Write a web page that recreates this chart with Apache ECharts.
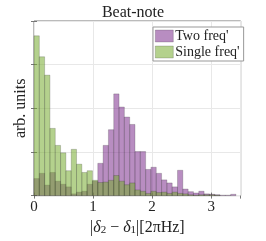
<!DOCTYPE html>
<html>
<head>
<meta charset="utf-8">
<script src="https://cdn.jsdelivr.net/npm/echarts@6/dist/echarts.min.js"></script>
<style>
html,body{margin:0;padding:0;background:#fff;}
#chart{width:266px;height:241px;}
</style>
</head>
<body>
<div id="chart"></div>
<script>
// Histogram bin edges (shared by both series)
var binEdges = [0.00,0.09,0.18,0.27,0.36,0.45,0.54,0.63,0.72,0.81,0.90,0.99,1.08,1.17,1.26,1.35,1.44,1.53,1.62,1.71,1.80,1.89,1.98,2.07,2.16,2.25,2.34,2.43,2.52,2.61,2.70,2.79,2.88,2.97,3.06,3.15,3.24,3.33,3.42,3.51];
// "Two freq'" heights (arb. units)
var twoFreq = [0.39,0.51,0.24,0.53,0.33,0.26,0.20,0.04,0.08,0.10,0.26,0.33,0.74,1.15,1.51,2.33,2.03,1.80,1.63,1.01,1.01,0.60,0.65,0.51,0.36,0.29,0.20,0.58,0.15,0.09,0.06,0.10,0.04,0.03,0.02,0.01,0.01,0.03,0.00];
// "Single freq'" heights (arb. units)
var singleFreq = [3.66,3.18,2.76,1.54,1.15,0.98,0.57,1.06,0.72,0.53,0.57,0.35,0.30,0.31,0.35,0.46,0.33,0.25,0.29,0.13,0.10,0.05,0.10,0.07,0.08,0.05,0.08,0.05,0.04,0.02,0.01,0.02,0.02,0.02,0.01,0.00,0.00,0.00,0.00];
var xTicks = [0, 1, 2, 3];
var seriesNames = ["Two freq'", "Single freq'"];

var purpleFill = 'rgba(126,47,142,0.55)';
var greenFill = 'rgba(119,172,48,0.55)';
var edgeCol = 'rgba(40,40,40,0.35)';
var FONT = 'Liberation Serif';

function toData(vals){
  var out = [];
  for (var i = 0; i < vals.length; i++) out.push([binEdges[i], binEdges[i+1], vals[i]]);
  return out;
}
function makeRender(fill){
  return function(params, api){
    var h = api.value(2);
    if (!(h > 0)) return;
    var p0 = api.coord([api.value(0), h]);
    var p1 = api.coord([api.value(1), 0]);
    var cs = params.coordSys;
    var r = echarts.graphic.clipRectByRect(
      {x: p0[0], y: p0[1], width: p1[0]-p0[0], height: p1[1]-p0[1]},
      {x: cs.x, y: cs.y, width: cs.width, height: cs.height});
    if (!r) return;
    return {type:'rect', shape: r, style: {fill: fill, stroke: edgeCol, lineWidth: 0.6}};
  };
}

var chart = echarts.init(document.getElementById('chart'), null, {renderer:'canvas'});
var gridLine = {show:true, lineStyle:{color:'#e8e8e8', width:1}};
chart.setOption({
  animation:false,
  backgroundColor:'#fff',
  title:{text:'Beat-note', left:'center', top:0, textStyle:{fontFamily:FONT, fontWeight:'normal', fontSize:16, color:'#222'}},
  legend:{
    orient:'vertical', left:153, top:27, itemWidth:18, itemHeight:12, itemGap:2,
    padding:[2,4,2,2], borderColor:'#999', borderWidth:1, backgroundColor:'#fff',
    textStyle:{fontFamily:FONT, fontSize:14, color:'#222', padding:[0,0,0,-3]},
    data:[
      {name:seriesNames[0], icon:'rect', itemStyle:{color:purpleFill, borderColor:edgeCol, borderWidth:0.6}},
      {name:seriesNames[1], icon:'rect', itemStyle:{color:greenFill, borderColor:edgeCol, borderWidth:0.6}}
    ]
  },
  grid:{left:34, top:21, right:25.3, bottom:37.7, show:true, borderColor:'#777', borderWidth:1, backgroundColor:'transparent'},
  xAxis:[{
    type:'value', min:0, max:3.5, interval:1, position:'bottom',
    axisLine:{show:false}, axisTick:{show:true, inside:true, length:3, lineStyle:{color:'#777'}},
    axisLabel:{margin:4, fontFamily:FONT, fontSize:15, color:'#222', showMaxLabel:false,
      formatter:function(v){ return xTicks.indexOf(v) >= 0 ? String(v) : ''; }},
    splitLine:gridLine,
    name:'|{i|δ}{s|2} − {i|δ}{s|1}|[2πHz]', nameLocation:'middle', nameGap:18,
    nameTextStyle:{fontFamily:FONT, fontSize:16, color:'#222',
      rich:{i:{fontFamily:FONT, fontStyle:'italic', fontSize:16, color:'#222'}, s:{fontFamily:FONT, fontSize:11, color:'#222', verticalAlign:'bottom', padding:[6,0,0,0]}}}
  },{
    type:'value', min:0, max:3.5, interval:1, position:'top',
    axisLine:{show:false}, axisTick:{show:true, inside:true, length:3, lineStyle:{color:'#777'}},
    axisLabel:{show:false}, splitLine:{show:false}
  }],
  yAxis:[{
    type:'value', min:0, max:4, interval:1, position:'left',
    axisLine:{show:false}, axisTick:{show:true, inside:true, length:3, lineStyle:{color:'#777'}},
    axisLabel:{show:false}, splitLine:gridLine,
    name:'arb. units', nameLocation:'middle', nameGap:5,
    nameTextStyle:{fontFamily:FONT, fontSize:16, color:'#222'}
  },{
    type:'value', min:0, max:4, interval:1, position:'right',
    axisLine:{show:false}, axisTick:{show:true, inside:true, length:3, lineStyle:{color:'#777'}},
    axisLabel:{show:false}, splitLine:{show:false}
  }],
  series:[
    {name:seriesNames[0], type:'custom', xAxisIndex:0, yAxisIndex:0, itemStyle:{color:purpleFill},
     renderItem:makeRender(purpleFill), encode:{x:[0,1], y:2}, data:toData(twoFreq)},
    {name:seriesNames[1], type:'custom', xAxisIndex:0, yAxisIndex:0, itemStyle:{color:greenFill},
     renderItem:makeRender(greenFill), encode:{x:[0,1], y:2}, data:toData(singleFreq)}
  ]
});
</script>
</body>
</html>
